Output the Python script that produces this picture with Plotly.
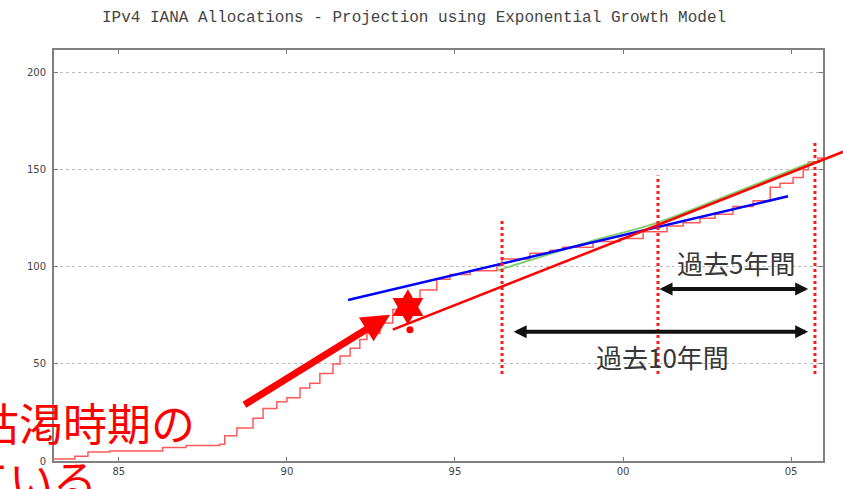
import plotly.graph_objects as go

# ---------------- data ----------------
step_years = [1983.07, 1983.69, 1984.08, 1984.73, 1986.3, 1987.0, 1988.0, 1988.15, 1988.51, 1988.99,
              1989.29, 1989.70, 1990.00, 1990.39, 1990.68, 1990.98, 1991.37, 1991.58, 1991.88, 1992.17,
              1992.38, 1992.77, 1993.15, 1993.57, 1993.96, 1994.46, 1994.85, 1995.45, 1996.25, 1996.40,
              1997.23, 1997.83, 1998.21, 1999.11, 1999.91, 2000.6, 2001.31, 2001.79, 2002.29, 2002.74,
              2003.27, 2003.87, 2004.38, 2004.67, 2005.06, 2005.36, 2005.51, 2005.80, 2005.95]
step_vals = [1.0, 2.5, 4.6, 5.2, 7.0, 8.0, 8.6, 13.0, 17.0, 22.0,
             27.0, 30.5, 32.5, 37.6, 40.0, 45.0, 50.0, 54.0, 58.0, 62.5,
             65.6, 71.0, 78.0, 83.0, 88.0, 93.6, 96.0, 98.0, 100.7, 104.0,
             107.0, 108.5, 110.0, 113.0, 114.5, 118.0, 121.0, 122.6, 125.0, 127.0,
             131.0, 134.0, 141.0, 143.0, 146.0, 150.0, 154.0, 156.0, 156.0]

green_years = [1996.28, 1999.23, 2001.01, 2003.27, 2005.65]
green_vals = [98.2, 114.0, 122.6, 137.8, 154.1]

blue_years = [1991.82, 2004.91]
blue_vals = [82.9, 136.3]

red_fit_years = [1993.15, 2006.55]
red_fit_vals = [67.6, 159.2]

marker_year = [1993.60]
marker_val = [79.3]
dot_year = [1993.66]
dot_val = [67.6]

vline_years = [1996.40, 2001.04, 2005.71]
vline_bottom = [44.8, 44.8, 44.8]
vline_top = [125.1, 147.0, 164.3]

span10_years = [1996.70, 2005.51]
span10_val = 66.6
span5_years = [2001.04, 2005.51]
span5_val = 88.5

label5_pos = (2003.36, 102.2)
label10_pos = (2001.18, 53.9)

arrow_tail = (1988.69, 28.5)
arrow_tip = (1993.07, 75.3)

tick_vals = [1985, 1990, 1995, 2000, 2005]
tick_text = ["85", "90", "95", "00", "05"]
y_ticks = [0, 50, 100, 150, 200]

title_text = "IPv4 IANA Allocations - Projection using Exponential Growth Model"
note_line1 = "枯渇時期の"
note_line2 = "ている"
label5 = "過去5年間"
label10 = "過去10年間"

# ---------------- layout geometry ----------------
W, H = 843, 489
ML, MR, MT, MB = 54, 20, 50, 23
XMIN, XMAX = 1983.07, 2005.95
YMIN, YMAX = 0, 211.6
PW, PH = W - ML - MR, H - MT - MB


def paper_x_px(px):
    return (px - ML) / PW


def paper_y_px(py):
    return (H - MB - py) / PH


def paper_x_year(yr):
    return (yr - XMIN) / (XMAX - XMIN)


fig = go.Figure()

fig.add_trace(go.Scatter(x=step_years, y=step_vals, mode="lines", line=dict(shape="hv", color="#ff5a5a", width=1.5),
                         showlegend=False, hoverinfo="skip"))
fig.add_trace(go.Scatter(x=green_years, y=green_vals, mode="lines", line=dict(shape="spline", color="#7fcf6f", width=2),
                         showlegend=False, hoverinfo="skip"))
fig.add_trace(go.Scatter(x=blue_years, y=blue_vals, mode="lines", line=dict(color="#0000ff", width=2.5),
                         showlegend=False, hoverinfo="skip"))
fig.add_trace(go.Scatter(x=marker_year, y=marker_val, mode="markers",
                         marker=dict(symbol="hexagram", size=27, color="#ff0000", line=dict(width=0)),
                         showlegend=False, hoverinfo="skip", cliponaxis=False))
fig.add_trace(go.Scatter(x=dot_year, y=dot_val, mode="markers",
                         marker=dict(symbol="circle", size=7, color="#ff0000", line=dict(width=0)),
                         showlegend=False, hoverinfo="skip"))

shapes = []
# red fitted line, allowed to run past the right frame
shapes.append(dict(type="line", xref="paper", yref="y",
                   x0=paper_x_year(red_fit_years[0]), x1=paper_x_year(red_fit_years[1]),
                   y0=red_fit_vals[0], y1=red_fit_vals[1], line=dict(color="#ff0000", width=2.5)))
for xv, yb, yt in zip(vline_years, vline_bottom, vline_top):
    shapes.append(dict(type="line", xref="x", yref="y", x0=xv, x1=xv, y0=yb, y1=yt,
                       line=dict(color="#ff1a1a", width=3, dash="dot")))

annotations = []
annotations.append(dict(xref="paper", yref="paper", x=paper_x_px(414), y=paper_y_px(18), text=title_text,
                        showarrow=False, xanchor="center", yanchor="middle",
                        font=dict(family="Liberation Mono", size=16, color="#444444")))
# double arrows
for yrs, val in ((span10_years, span10_val), (span5_years, span5_val)):
    annotations.append(dict(xref="x", yref="y", axref="x", ayref="y", x=yrs[1], y=val, ax=yrs[0], ay=val,
                            text="", showarrow=True, arrowside="end+start", arrowhead=2, startarrowhead=2,
                            arrowsize=0.65, startarrowsize=0.65, arrowwidth=4, arrowcolor="#111111",
                            standoff=0, startstandoff=0))
annotations.append(dict(xref="x", yref="y", x=label5_pos[0], y=label5_pos[1], text=label5, showarrow=False,
                        font=dict(family="Noto Sans CJK JP", size=26, color="#383838")))
annotations.append(dict(xref="x", yref="y", x=label10_pos[0], y=label10_pos[1], text=label10, showarrow=False,
                        font=dict(family="Noto Sans CJK JP", size=26, color="#383838")))
# big red arrow
annotations.append(dict(xref="x", yref="y", axref="x", ayref="y", x=arrow_tip[0], y=arrow_tip[1],
                        ax=arrow_tail[0], ay=arrow_tail[1], text="", showarrow=True, arrowhead=2,
                        arrowsize=0.8, arrowwidth=7, arrowcolor="#ff0000", standoff=0))
# big red note (cut by the page edge)
annotations.append(dict(xref="paper", yref="paper", x=paper_x_px(197), y=paper_y_px(427), text=note_line1,
                        showarrow=False, xanchor="right", yanchor="middle",
                        font=dict(family="Noto Sans CJK JP", size=44, color="#ff0000")))
annotations.append(dict(xref="paper", yref="paper", x=paper_x_px(99), y=paper_y_px(484), text=note_line2,
                        showarrow=False, xanchor="right", yanchor="middle",
                        font=dict(family="Noto Sans CJK JP", size=44, color="#ff0000")))

fig.update_layout(
    width=W, height=H, margin=dict(l=ML, r=MR, t=MT, b=MB, pad=0),
    paper_bgcolor="white", plot_bgcolor="white",
    shapes=shapes, annotations=annotations, showlegend=False,
    xaxis=dict(range=[XMIN, XMAX], tickvals=tick_vals, ticktext=tick_text, ticks="inside", ticklen=4,
               tickcolor="#777777", showline=True, linecolor="#808080", linewidth=2, mirror="ticks",
               showgrid=False, zeroline=False, tickfont=dict(family="DejaVu Sans", size=10, color="#444444")),
    yaxis=dict(range=[YMIN, YMAX], tickvals=y_ticks, ticks="inside", ticklen=4, tickcolor="#777777",
               showline=True, linecolor="#808080", linewidth=2, mirror="ticks",
               showgrid=True, gridcolor="#bbbbbb", griddash="dot", gridwidth=1, zeroline=False,
               ticklabelstandoff=4, tickfont=dict(family="DejaVu Sans", size=10, color="#444444")),
)

fig.write_html("out.html")
